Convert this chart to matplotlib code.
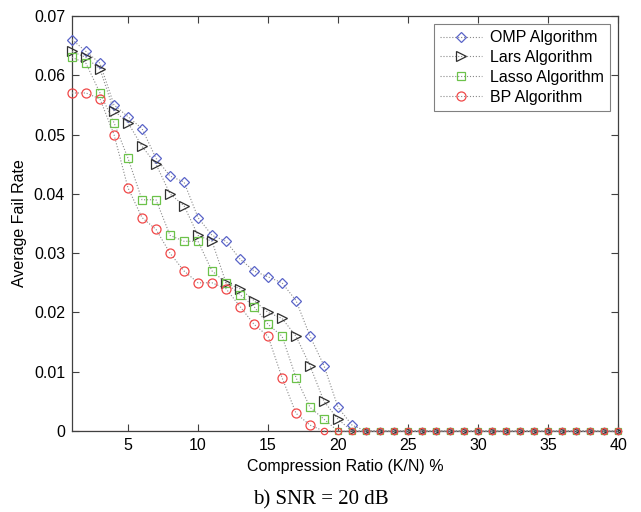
import matplotlib
matplotlib.use('Agg')
import matplotlib.pyplot as plt
from matplotlib.ticker import FuncFormatter
import numpy as np

# compression ratio K/N in %
ratio = list(range(1, 41))

omp = [0.066, 0.064, 0.062, 0.055, 0.053, 0.051, 0.046, 0.043, 0.042, 0.036,
       0.033, 0.032, 0.029, 0.027, 0.026, 0.025, 0.022, 0.016, 0.011, 0.004,
       0.001] + [0.0]*19
lars = [0.064, 0.063, 0.061, 0.054, 0.052, 0.048, 0.045, 0.040, 0.038, 0.033,
        0.032, 0.025, 0.024, 0.022, 0.020, 0.019, 0.016, 0.011, 0.005, 0.002] + [0.0]*20
lasso = [0.063, 0.062, 0.057, 0.052, 0.046, 0.039, 0.039, 0.033, 0.032, 0.032,
         0.027, 0.025, 0.023, 0.021, 0.018, 0.016, 0.009, 0.004, 0.002] + [0.0]*21
bp = [0.057, 0.057, 0.056, 0.050, 0.041, 0.036, 0.034, 0.030, 0.027, 0.025,
      0.025, 0.024, 0.021, 0.018, 0.016, 0.009, 0.003, 0.001] + [0.0]*22

names = ['OMP Algorithm', 'Lars Algorithm', 'Lasso Algorithm', 'BP Algorithm']
markers = ['D', '>', 's', 'o']
colors = ['#5a64c8', '#303030', '#6cc24a', '#f04848']
msizes = [5.0, 6.5, 5.5, 6.5]

plt.rcParams['font.family'] = ['Liberation Sans', 'DejaVu Sans']
fs = 11.5

fig = plt.figure(figsize=(6.41, 5.12), dpi=100)
ax = fig.add_axes([0.1123, 0.158, 0.852, 0.811])

x = np.array(ratio)
for y, name, m, c, ms in zip([omp, lars, lasso, bp], names, markers, colors, msizes):
    y = np.array(y)
    nz = y > 0
    ax.plot(x, y, linestyle=':', color='#8a8a8a', lw=0.8,
            marker=m, ms=ms, mfc='none', mec=c, mew=0.9,
            markevery=list(np.where(nz)[0]),
            label=name, clip_on=False, zorder=3)
    # the zero points are drawn with smaller marks in the original
    ax.plot(x[~nz], y[~nz], linestyle='none', marker=m, ms=ms*0.7,
            mfc='none', mec=c, mew=0.9, clip_on=False, zorder=3)

ax.axhline(0, color='#c05050', lw=0.8, zorder=2)

ax.set_xlim(1, 40)
ax.set_ylim(0, 0.07)
ax.set_xticks([5, 10, 15, 20, 25, 30, 35, 40])
ax.set_yticks(np.arange(0, 0.071, 0.01))
ax.yaxis.set_major_formatter(FuncFormatter(lambda v, p: '%g' % round(v, 3)))
ax.tick_params(direction='in', top=True, right=True, labelsize=fs, length=5,
               color='#404040', pad=5)
for s in ax.spines.values():
    s.set_color('#404040')
    s.set_linewidth(0.9)

ax.set_xlabel('Compression Ratio (K/N) %', fontsize=fs, labelpad=4)
ax.set_ylabel('Average Fail Rate', fontsize=fs, labelpad=5)

leg = ax.legend(loc='upper right', fontsize=fs, frameon=True, fancybox=False,
                borderaxespad=0.5, handlelength=2.6, handletextpad=0.5,
                labelspacing=0.3, borderpad=0.4)
leg.get_frame().set_edgecolor('#606060')
leg.get_frame().set_linewidth(0.8)

fig.text(0.5, 0.014, 'b) SNR = 20 dB', ha='center', va='baseline',
         fontsize=15, family='Liberation Serif')

fig.savefig('out.png', dpi=100)
